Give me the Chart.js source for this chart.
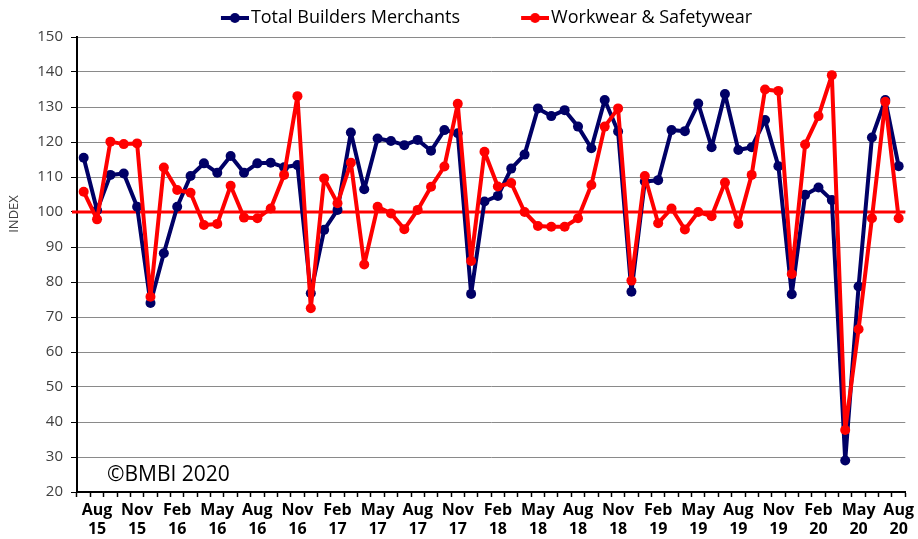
<!DOCTYPE html>
<html>
<head>
<meta charset="utf-8">
<title>BMBI – Total Builders Merchants vs Workwear & Safetywear</title>
<script src="https://cdn.jsdelivr.net/npm/chart.js@4"></script>
<style>
  html, body { margin: 0; padding: 0; background: #fff; }
  #wrap { position: relative; width: 918px; height: 539px; }
</style>
</head>
<body>
<div id="wrap"><canvas id="c"></canvas></div>
<script>
// Monatskategorien Jul 15 .. Aug 20 (Beschriftung nur jeden 3. Monat)
var MONTHS = [
  'Jul 15', 'Aug 15', 'Sep 15', 'Oct 15', 'Nov 15', 'Dec 15',
  'Jan 16', 'Feb 16', 'Mar 16', 'Apr 16', 'May 16', 'Jun 16', 'Jul 16', 'Aug 16', 'Sep 16', 'Oct 16', 'Nov 16', 'Dec 16',
  'Jan 17', 'Feb 17', 'Mar 17', 'Apr 17', 'May 17', 'Jun 17', 'Jul 17', 'Aug 17', 'Sep 17', 'Oct 17', 'Nov 17', 'Dec 17',
  'Jan 18', 'Feb 18', 'Mar 18', 'Apr 18', 'May 18', 'Jun 18', 'Jul 18', 'Aug 18', 'Sep 18', 'Oct 18', 'Nov 18', 'Dec 18',
  'Jan 19', 'Feb 19', 'Mar 19', 'Apr 19', 'May 19', 'Jun 19', 'Jul 19', 'Aug 19', 'Sep 19', 'Oct 19', 'Nov 19', 'Dec 19',
  'Jan 20', 'Feb 20', 'Mar 20', 'Apr 20', 'May 20', 'Jun 20', 'Jul 20', 'Aug 20'
];

// Index-Werte
var TOTAL_BM = [
  115.5, 100.5, 110.6, 111.0, 101.5, 74.0,
  88.2, 101.5, 110.3, 113.9, 111.2, 116.0, 111.2, 113.9, 114.1, 112.8, 113.4, 76.8,
  94.9, 100.6, 122.7, 106.5, 121.0, 120.3, 119.1, 120.6, 117.5, 123.4, 122.5, 76.6,
  103.0, 104.6, 112.4, 116.4, 129.6, 127.4, 129.1, 124.4, 118.2, 132.0, 123.0, 77.2,
  108.7, 109.1, 123.4, 123.1, 131.0, 118.5, 133.7, 117.7, 118.5, 126.3, 113.1, 76.5,
  104.9, 107.0, 103.4, 29.0, 78.7, 121.3, 132.0, 113.1
];
var WORKWEAR = [
  105.8, 97.9, 120.1, 119.4, 119.6, 75.8,
  112.7, 106.3, 105.5, 96.3, 96.6, 107.5, 98.4, 98.2, 101.0, 110.6, 133.1, 72.5,
  109.6, 102.5, 114.1, 85.0, 101.5, 99.6, 95.1, 100.6, 107.2, 113.0, 130.9, 86.0,
  117.2, 107.3, 108.3, 100.0, 96.0, 95.8, 95.8, 98.2, 107.7, 124.4, 129.6, 80.4,
  110.3, 96.8, 101.0, 95.0, 100.0, 98.8, 108.4, 96.6, 110.6, 135.0, 134.6, 82.3,
  119.3, 127.4, 139.1, 37.7, 66.5, 98.2, 131.5, 98.2
];
var SERIES_NAMES = ['Total Builders Merchants', 'Workwear & Safetywear'];
var BASELINE = 100;
var Y_MIN = 20, Y_MAX = 150, Y_STEP = 10;

var NAVY = '#000066', RED = '#ff0000';
var FONT = '"Open Sans", "Noto Sans", sans-serif';

// Legendensymbol: Linie mit Punkt, rechtsbündig in einer breiten Box
// (die freie linke Hälfte ergibt den Abstand zwischen den Einträgen)
var LEG_BOX = 74;
function legendMarker(color) {
  var c = document.createElement('canvas');
  c.width = LEG_BOX + 14; c.height = 12;
  var g = c.getContext('2d');
  var x0 = LEG_BOX - 14;
  g.strokeStyle = color; g.lineWidth = 4;
  g.beginPath(); g.moveTo(x0, 6); g.lineTo(x0 + 28, 6); g.stroke();
  g.fillStyle = color;
  g.beginPath(); g.arc(x0 + 14, 6, 5, 0, Math.PI * 2); g.fill();
  return c;
}
var MARKERS = [legendMarker(NAVY), legendMarker(RED)];

// 100er-Linie, Achsentitel und Copyright
var extras = {
  id: 'extras',
  beforeDatasetsDraw: function (chart) {
    var ctx = chart.ctx, a = chart.chartArea;
    var y = chart.scales.y.getPixelForValue(BASELINE);
    ctx.save();
    ctx.strokeStyle = RED; ctx.lineWidth = 3;
    ctx.beginPath(); ctx.moveTo(a.left - 5, y); ctx.lineTo(a.right, y); ctx.stroke();
    ctx.restore();
  },
  afterDraw: function (chart) {
    var ctx = chart.ctx;
    ctx.save();
    ctx.fillStyle = '#000';
    ctx.font = '21px ' + FONT;
    ctx.textAlign = 'left'; ctx.textBaseline = 'alphabetic';
    ctx.fillText('©BMBI 2020', 107, 481);
    ctx.translate(14, 214);
    ctx.rotate(-Math.PI / 2);
    ctx.font = '13px ' + FONT;
    ctx.fillStyle = '#404040';
    ctx.textAlign = 'center'; ctx.textBaseline = 'middle';
    ctx.fillText('INDEX', 0, 0);
    ctx.restore();
  }
};

var lineStyle = { borderWidth: 4, pointRadius: 5, pointBorderWidth: 0, tension: 0,
  borderJoinStyle: 'round', borderCapStyle: 'round' };

new Chart(document.getElementById('c').getContext('2d'), {
  type: 'line',
  data: {
    labels: MONTHS,
    datasets: [
      Object.assign({ label: SERIES_NAMES[0], data: TOTAL_BM, borderColor: NAVY, backgroundColor: NAVY, order: 1 }, lineStyle),
      Object.assign({ label: SERIES_NAMES[1], data: WORKWEAR, borderColor: RED, backgroundColor: RED, order: 0 }, lineStyle),
    ],
  },
  options: {
    responsive: true, maintainAspectRatio: false, animation: false,
    layout: { padding: { left: 9, right: 7, top: 1, bottom: 0 } },
    plugins: {
      tooltip: { enabled: false },
      legend: {
        position: 'top', fullSize: true, maxHeight: 36,
        labels: {
          usePointStyle: true, pointStyleWidth: LEG_BOX, padding: 8, color: '#000',
          font: { family: FONT, size: 18 },
          sort: function (a, b) { return a.datasetIndex - b.datasetIndex; },
          generateLabels: function (chart) {
            var items = Chart.defaults.plugins.legend.labels.generateLabels(chart);
            items.forEach(function (it) { it.pointStyle = MARKERS[it.datasetIndex]; });
            return items;
          }
        }
      }
    },
    scales: {
      x: {
        offset: true,
        grid: { offset: true, drawOnChartArea: false, tickLength: 5, tickColor: '#000', tickWidth: 1.5 },
        border: { color: '#000', width: 2 },
        ticks: {
          autoSkip: false, maxRotation: 0, minRotation: 0, padding: 4, color: '#000',
          font: { family: FONT, size: 16, weight: 'bold' },
          callback: function (v, i) { return i % 3 === 1 ? MONTHS[i].split(' ') : ''; }
        },
        afterFit: function (s) { s.height = 47; }
      },
      y: {
        min: Y_MIN, max: Y_MAX,
        grid: { color: '#8a8a8a', lineWidth: 1, tickLength: 6, tickColor: '#000' },
        border: { color: '#000', width: 2 },
        ticks: { stepSize: Y_STEP, padding: 8, color: '#404040', font: { family: FONT, size: 15 } },
        afterFit: function (s) { s.width = 68; }
      }
    }
  },
  plugins: [extras]
});
</script>
</body>
</html>
